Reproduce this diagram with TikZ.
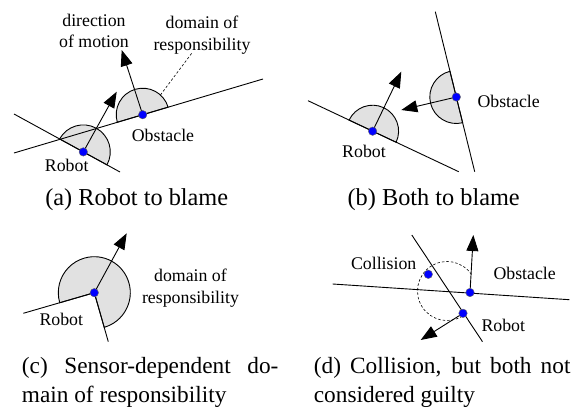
\documentclass[tikz,border=0pt]{standalone}
\usepackage{fontspec}
\setmainfont{Liberation Serif}
\usetikzlibrary{arrows.meta}
\definecolor{domgray}{RGB}{225,225,225}
\definecolor{dotblue}{RGB}{0,0,255}
\tikzset{
  ln/.style={line width=0.9pt},
  dom/.style={fill=domgray, draw=black, line width=0.9pt},
  mot/.style={line width=0.9pt, -{Triangle[length=16pt,width=12pt]}},
  pdot/.style={circle, fill=dotblue, draw=black!60, line width=0.4pt, inner sep=0pt, minimum size=8.5pt},
  lbl/.style={font=\fontsize{17.8}{21.5}\selectfont, align=center, inner sep=0pt},
  captxt/.style={font=\fontsize{24.3}{28.4}\selectfont, inner sep=0pt},
  captwo/.style={font=\fontsize{23.3}{28.4}\selectfont, inner sep=0pt},
  dsh/.style={line width=0.6pt, dash pattern=on 2.5pt off 2pt}
}
\begin{document}
\begin{tikzpicture}[x=1pt,y=1pt]
\useasboundingbox (0,0) rectangle (584,408);

% ---------------- (a) ----------------
\coordinate (Ra) at (83.3,256.1);
\coordinate (Oa) at (142.7,293.3);
\coordinate (a1) at (14,255);
\coordinate (a2) at (263,329);
\coordinate (a3) at (14,294);
\coordinate (a4) at (120,236);
\coordinate (ta1) at (116.7,316.3);
\coordinate (ta2) at (121.7,358);
\coordinate (domenda) at (191.7,354.7);
\draw[dom] (Ra) ++(-28.7:27) arc[start angle=-28.7, end angle=151.3, radius=27] -- cycle;
\draw[dom] (Oa) ++(16.55:26.5) arc[start angle=16.55, end angle=196.55, radius=26.5] -- cycle;
\draw[ln] (a1) -- (a2);
\draw[ln] (a3) -- (a4);
\draw[dsh] ([shift={(48:26.5)}]Oa) -- (domenda);
\draw[mot] (Ra) -- (ta1);
\draw[mot] (Oa) -- (ta2);
\node[pdot] (Radot) at (Ra) {};
\node[pdot] (Oadot) at (Oa) {};
\node[lbl] (dira) at (94,377) {direction\\of motion};
\node[lbl] (doma) at (202,373) {domain of\\responsibility};
\node[lbl] (obsa) at (163,273) {Obstacle};
\node[lbl] (roba) at (66.7,243) {Robot};
\node[captxt] (capa) at (136.7,208) {(a) Robot to blame};

% ---------------- (b) ----------------
\coordinate (Rb) at (372.6,276.8);
\coordinate (Ob) at (456.3,311);
\coordinate (b1) at (308,307.3);
\coordinate (b2) at (458.7,236.3);
\coordinate (b3) at (435.3,396.3);
\coordinate (b4) at (474.7,236.3);
\coordinate (tb1) at (401.3,336.3);
\coordinate (tb2) at (401.3,298);
\draw[dom] (Rb) ++(-25.2:26) arc[start angle=-25.2, end angle=154.8, radius=26] -- cycle;
\draw[dom] (Ob) ++(103.8:26.5) arc[start angle=103.8, end angle=283.8, radius=26.5] -- cycle;
\draw[ln] (b1) -- (b2);
\draw[ln] (b3) -- (b4);
\draw[mot] (Rb) -- (tb1);
\draw[mot] (Ob) -- (tb2);
\node[pdot] (Rbdot) at (Rb) {};
\node[pdot] (Obdot) at (Ob) {};
\node[lbl] (obsb) at (508.7,306.3) {Obstacle};
\node[lbl] (robb) at (364,256.3) {Robot};
\node[captxt] (capb) at (433.7,208) {(b) Both to blame};

% ---------------- (c) ----------------
\coordinate (Rc) at (94.3,115.3);
\coordinate (c1) at (23.3,94.7);
\coordinate (c2) at (108.3,66.3);
\coordinate (tc1) at (126.7,174.7);
\draw[dom] (Rc) -- ++(-74:36) arc[start angle=-74, end angle=196.2, radius=36] -- cycle;
\draw[ln] (Rc) -- (c1);
\draw[ln] (Rc) -- (c2);
\draw[mot] (Rc) -- (tc1);
\node[pdot] (Rcdot) at (Rc) {};
\node[lbl] (domc) at (190.5,120) {domain of\\responsibility};
\node[lbl] (robc) at (61.3,88.7) {Robot};
\node[captwo, anchor=west] (capc1) at (21.7,39.7) {\makebox[256.6pt][s]{(c) Sensor-dependent do-}};
\node[captwo, anchor=west] (capc2) at (21.7,11.3) {main of responsibility};

% ---------------- (d) ----------------
\coordinate (Od) at (470,115.5);
\coordinate (Rd) at (463,94.7);
\coordinate (Cd) at (428.3,133.7);
\coordinate (d1) at (332.7,124);
\coordinate (d2) at (569.3,108.3);
\coordinate (d3) at (411.8,173);
\coordinate (d4) at (482.5,66.3);
\coordinate (td1) at (473.3,173);
\coordinate (td2) at (420.7,68);
\coordinate (cc) at (447,117);
\draw[dsh] (cc) ++(34:29.5) arc[start angle=34, end angle=300, radius=29.5];
\draw[ln] (d1) -- (d2);
\draw[ln] (d3) -- (d4);
\draw[mot] (Od) -- (td1);
\draw[mot] (Rd) -- (td2);
\node[pdot] (Oddot) at (Od) {};
\node[pdot] (Rddot) at (Rd) {};
\node[pdot] (Cddot) at (Cd) {};
\node[lbl] (cold) at (383.7,144.7) {Collision};
\node[lbl] (obsd) at (524.7,134.7) {Obstacle};
\node[lbl] (robd) at (503.3,83) {Robot};
\node[captwo, anchor=west] (capd1) at (313.7,39.7) {\makebox[256.6pt][s]{(d) Collision, but both not}};
\node[captwo, anchor=west] (capd2) at (313.7,11.3) {considered guilty};
\end{tikzpicture}
\end{document}
